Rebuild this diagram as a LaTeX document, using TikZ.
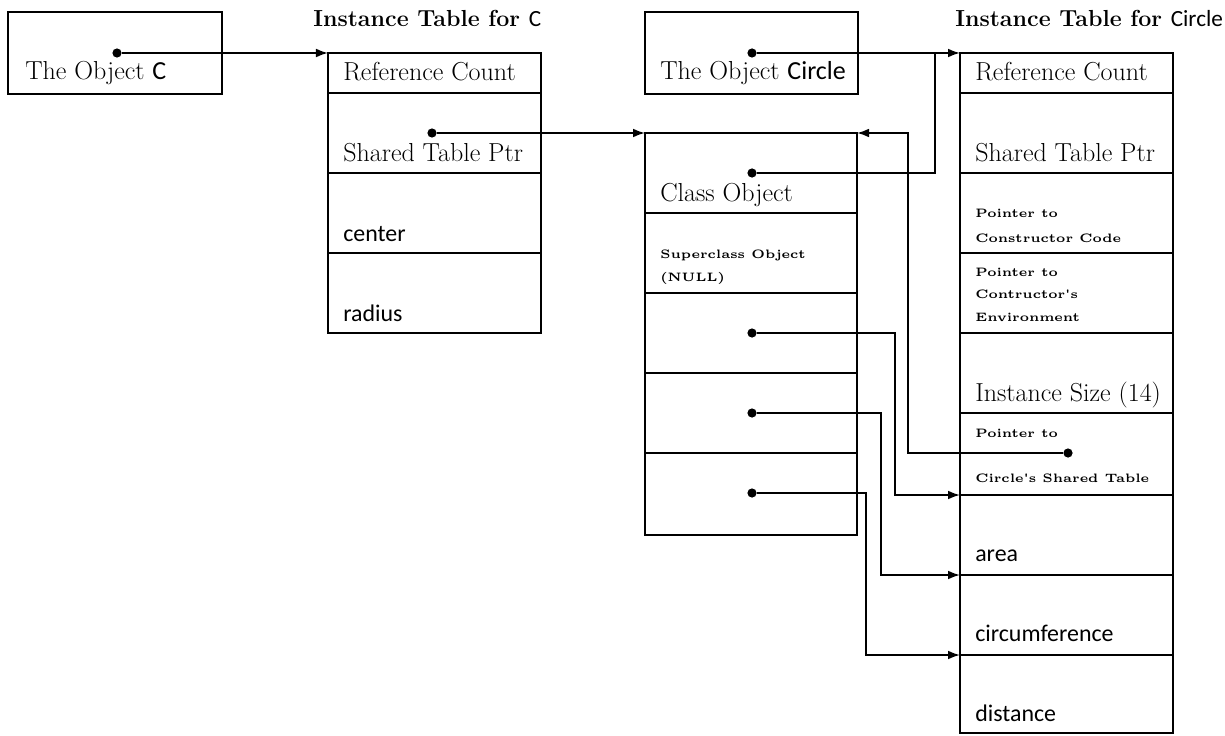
\documentclass[tikz,border=0pt]{standalone}
\usepackage{fontspec}
\newfontfamily\sansf{Carlito}
\newfontfamily\tinybf{lmroman5-bold.otf}
\usetikzlibrary{arrows.meta,calc}

\begin{document}
\begin{tikzpicture}[x=0.025cm, y=-0.025cm,
      arr/.style={-{Latex[length=3mm,width=2.2mm]}, line width=1.2pt},
      wire/.style={line width=1.2pt},
      dot/.style={circle, fill=black, inner sep=0pt, minimum size=2.3mm},
      cell/.style={draw, line width=1.8pt, inner sep=0pt, outer sep=0pt,
                   anchor=north west, minimum width=5.325cm},
      lbl/.style={anchor=base west, inner sep=0pt, font=\fontsize{18.5}{21}\selectfont},
      fld/.style={anchor=base west, inner sep=0pt, font=\sansf\fontsize{17}{20}\selectfont},
      small/.style={anchor=base west, inner sep=0pt, align=left,
                    font=\tinybf\fontsize{8.7}{16}\selectfont},
      ttl/.style={anchor=base west, inner sep=0pt, font=\bfseries\fontsize{16.5}{19}\selectfont},
    ]
    \useasboundingbox (0,0) rectangle (1225,736);

    % the object C and its instance table
    \node[cell, minimum width=5.35cm, minimum height=2.05cm] (objC) at (8,12) {};
    \node[lbl] (objCt) at (25,80) {The Object {\sansf C}};
    \node[ttl] (ttlC) at (313,27) {Instance Table for {\sansf\mdseries C}};

    \node[cell, minimum height=1cm] (tc1) at (328,53)  {};
    \node[cell, minimum height=2cm] (tc2) at (328,93)  {};
    \node[cell, minimum height=2cm] (tc3) at (328,173) {};
    \node[cell, minimum height=2cm] (tc4) at (328,253) {};
    \node[lbl] (tc1t) at (343,81)  {Reference Count};
    \node[lbl] (tc2t) at (343,161) {Shared Table Ptr};
    \node[fld] (tc3t) at (343,241) {center};
    \node[fld] (tc4t) at (343,321) {radius};

    % the object Circle
    \node[cell, minimum height=2.05cm] (objK) at (645,12) {};
    \node[lbl] (objKt) at (660,80) {The Object {\sansf Circle}};

    % class object
    \node[cell, minimum width=5.3cm, minimum height=2cm]    (co1) at (645,133) {};
    \node[cell, minimum width=5.3cm, minimum height=2cm]    (co2) at (645,213) {};
    \node[cell, minimum width=5.3cm, minimum height=2cm]    (co3) at (645,293) {};
    \node[cell, minimum width=5.3cm, minimum height=2cm]    (co4) at (645,373) {};
    \node[cell, minimum width=5.3cm, minimum height=2.05cm] (co5) at (645,453) {};
    \node[lbl] (co1t) at (660,201) {Class Object};
    \node[small] (co2t) at (660,281) {Superclass Object\\(NULL)};

    % instance table for Circle
    \node[ttl] (ttlK) at (955,27) {Instance Table for {\sansf\mdseries Circle}};
    \node[cell, minimum height=1cm]    (ti1) at (960,53)  {};
    \node[cell, minimum height=2cm]    (ti2) at (960,93)  {};
    \node[cell, minimum height=2cm]    (ti3) at (960,173) {};
    \node[cell, minimum height=2cm]    (ti4) at (960,253) {};
    \node[cell, minimum height=2cm]    (ti5) at (960,333) {};
    \node[cell, minimum height=2.05cm] (ti6) at (960,413) {};
    \node[cell, minimum height=2cm]    (ti7) at (960,495) {};
    \node[cell, minimum height=2cm]    (ti8) at (960,575) {};
    \node[cell, minimum height=1.95cm] (ti9) at (960,655) {};
    \node[lbl] (ti1t) at (975,81)  {Reference Count};
    \node[lbl] (ti2t) at (975,161) {Shared Table Ptr};
    \node[small] (ti3t) at (975,242) {Pointer to\\[1.5pt]Constructor Code};
    \node[small] (ti4t) at (975,321) {Pointer to\\Contructor's\\Environment};
    \node[lbl] (ti5t) at (975,401) {Instance Size (14)};
    \node[small] (ti6a) at (975,437) {Pointer to};
    \node[small] (ti6b) at (975,482) {Circle's Shared Table};
    \node[fld] (ti7t) at (975,561) {area};
    \node[fld] (ti8t) at (975,641) {circumference};
    \node[fld] (ti9t) at (975,721) {distance};

    % pointers
    \node[dot] (dC)   at (117,53)  {};
    \node[dot] (dSC)  at (432,133) {};
    \node[dot] (dObj) at (752,53)  {};
    \node[dot] (dCls) at (752,173) {};
    \node[dot] (dM1)  at (752,333) {};
    \node[dot] (dM2)  at (752,413) {};
    \node[dot] (dM3)  at (752,493) {};
    \node[dot] (dSh)  at (1068,453) {};
    \coordinate (jn) at (935,53);
    \coordinate (lp) at (908,133);

    \draw[arr] (dC) -- (tc1.north west);
    \draw[arr] (dSC) -- (co1.north west);
    \draw[arr] (dObj) -- (ti1.north west);
    \draw[wire] (dCls) -| (jn);
    \draw[arr] (dSh) -| (lp) -- (co1.north east);
    \draw[arr] (dM1) -| ($(ti7.north west)+(-65,0)$) -- (ti7.north west);
    \draw[arr] (dM2) -| ($(ti8.north west)+(-79,0)$) -- (ti8.north west);
    \draw[arr] (dM3) -| ($(ti9.north west)+(-94,0)$) -- (ti9.north west);
  \end{tikzpicture}
\end{document}
